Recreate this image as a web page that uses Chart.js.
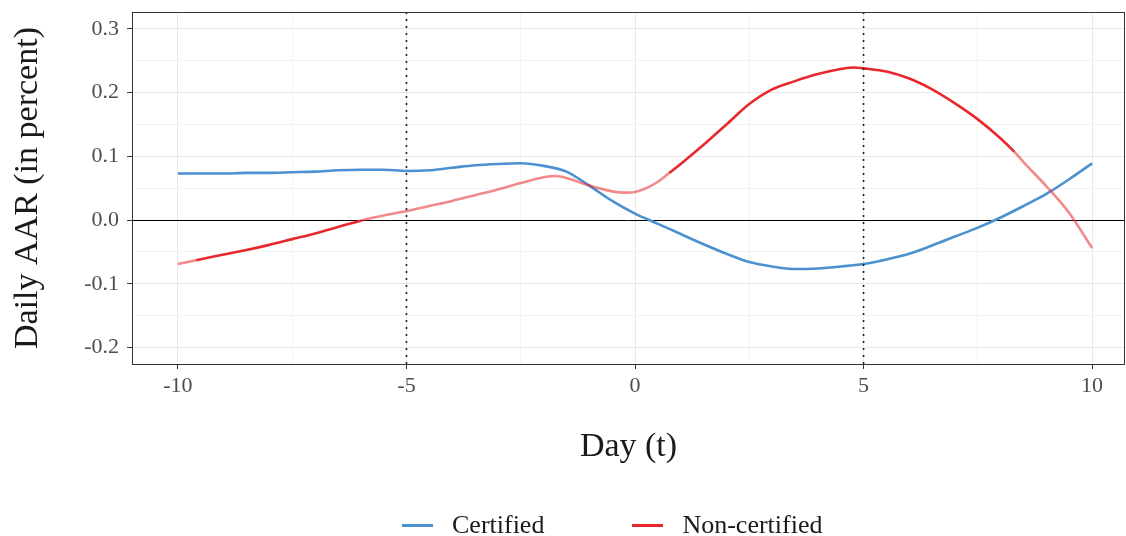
<!DOCTYPE html>
<html>
<head>
<meta charset="utf-8">
<script src="https://cdn.jsdelivr.net/npm/chart.js@4.4.1/dist/chart.umd.min.js"></script>
<style>
  body { margin: 0; background: #fff; overflow: hidden; }
  #wrap { position: relative; width: 1126px; height: 536px; }
  #legend { position: absolute; left: 402px; top: 510px; height: 30px; display: flex; align-items: center;
            font-family: "Liberation Serif", serif; font-size: 26px; color: #1a1a1a; }
  #legend .item { display: flex; align-items: center; margin-right: 88px; }
  #legend .swatch { width: 31px; height: 3px; margin-right: 19px; }
</style>
</head>
<body>
<div id="wrap">
  <canvas id="aar"></canvas>
  <div id="legend"></div>
</div>
<script>
// event window, days relative to the announcement
var certDays = [-10, -9.5, -9, -8.5, -8, -7.5, -7, -6.5, -6, -5.5, -5, -4.5, -4, -3.5, -3, -2.5, -2, -1.5, -1, -0.5,
                0, 0.5, 1, 1.5, 2, 2.5, 3, 3.5, 4, 4.5, 5, 5.5, 6, 6.5, 7, 7.5, 8, 8.5, 9, 9.5, 10];
var certAAR = [0.073, 0.073, 0.073, 0.074, 0.074, 0.075, 0.076, 0.078, 0.079, 0.079, 0.077, 0.078, 0.082, 0.086, 0.088, 0.089, 0.085, 0.076, 0.054, 0.030,
               0.010, -0.006, -0.022, -0.038, -0.053, -0.066, -0.073, -0.077, -0.076, -0.073, -0.069, -0.062, -0.053, -0.040, -0.026, -0.012, 0.004, 0.022, 0.041, 0.064, 0.089];

var nonCertDays = [-10, -9.6, -9, -8.5, -8, -7.5, -7, -6.5, -6, -5.5, -5, -4.5, -4, -3.5, -3, -2.5, -2, -1.75, -1.5, -1, -0.5, -0.2,
                   0, 0.25, 0.5, 0.75, 1, 1.5, 2, 2.5, 3, 3.5, 4, 4.5, 4.8, 5, 5.5, 6, 6.5, 7, 7.5, 8, 8.3, 8.5, 9, 9.5, 10];
var nonCertAAR = [-0.069, -0.063, -0.054, -0.047, -0.039, -0.030, -0.021, -0.011, -0.001, 0.007, 0.014, 0.022, 0.030, 0.039, 0.048, 0.058, 0.067, 0.069, 0.066, 0.054, 0.045, 0.043,
                  0.044, 0.050, 0.060, 0.074, 0.088, 0.118, 0.150, 0.182, 0.205, 0.218, 0.229, 0.237, 0.2395, 0.238, 0.233, 0.222, 0.205, 0.183, 0.158, 0.128, 0.107, 0.091, 0.053, 0.011, -0.044];

// stretches where the non-certified AAR is drawn in full colour
var nonCertSignif = [[-9.6, -6], [0.75, 8.3]];

var xTicks = [-10, -7.5, -5, -2.5, 0, 2.5, 5, 7.5, 10];
var yTicks = [-0.2, -0.15, -0.1, -0.05, 0, 0.05, 0.1, 0.15, 0.2, 0.25, 0.3];
var windowLines = [-5, 5];

var xMin = -11.005, xMax = 10.72;
var yMin = -0.226, yMax = 0.3265;

var BLUE = '#4b91cf';
var RED = '#e8282b';
var RED_LIGHT = 'rgba(232, 40, 43, 0.55)';
var SERIF = "'Liberation Serif', serif";

function pts(xs, ys) {
    return xs.map(function(x, i) { return {x: x, y: ys[i]}; });
}

function inSignif(x) {
    for (var i = 0; i < nonCertSignif.length; i++) {
        if (x >= nonCertSignif[i][0] && x <= nonCertSignif[i][1]) return true;
    }
    return false;
}

var datasets = [{
    label: 'Certified',
    data: pts(certDays, certAAR),
    borderColor: BLUE,
    backgroundColor: BLUE,
    borderWidth: 2.6,
    pointRadius: 0,
    cubicInterpolationMode: 'monotone',
    order: 2
}, {
    label: 'Non-certified',
    data: pts(nonCertDays, nonCertAAR),
    borderColor: RED,
    backgroundColor: RED,
    borderWidth: 2.6,
    pointRadius: 0,
    cubicInterpolationMode: 'monotone',
    segment: {
        borderColor: function(ctx) {
            var mid = (ctx.p0.parsed.x + ctx.p1.parsed.x) / 2;
            return inSignif(mid) ? RED : RED_LIGHT;
        }
    },
    order: 1
}];

// dotted markers for the event window
windowLines.forEach(function(d) {
    datasets.push({
        label: 'window',
        data: [{x: d, y: yMin}, {x: d, y: yMax}],
        borderColor: '#1c1c3c',
        borderWidth: 1.6,
        borderDash: [2, 5],
        pointRadius: 0,
        order: 0
    });
});

// panel frame on all four sides
var frame = {
    id: 'frame',
    afterDatasetsDraw: function(chart) {
        var a = chart.chartArea, c = chart.ctx;
        c.save();
        c.strokeStyle = '#333333';
        c.lineWidth = 1;
        c.strokeRect(Math.round(a.left) + 0.5, Math.round(a.top) + 0.5,
                     Math.round(a.right - a.left) - 1, Math.round(a.bottom - a.top));
        c.restore();
    }
};

var ctx = document.getElementById('aar');
var chart = new Chart(ctx, {
    type: 'line',
    data: {datasets: datasets},
    plugins: [frame],
    options: {
        responsive: true,
        maintainAspectRatio: false,
        animation: false,
        layout: {padding: {top: 12, bottom: 69, left: 0, right: 1}},
        plugins: {
            legend: {display: false},
            tooltip: {enabled: false}
        },
        scales: {
            x: {
                type: 'linear',
                min: xMin,
                max: xMax,
                afterBuildTicks: function(scale) {
                    scale.ticks = xTicks.map(function(v) { return {value: v}; });
                },
                afterFit: function(scale) {
                    scale.height = 103;
                    scale.paddingLeft = 0;
                    scale.paddingRight = 0;
                },
                ticks: {
                    autoSkip: false,
                    maxRotation: 0,
                    padding: 4,
                    color: '#4d4d4d',
                    font: {family: SERIF, size: 22},
                    callback: function(v) { return v % 5 === 0 ? String(v) : ''; }
                },
                grid: {
                    color: function(c) { return c.tick && c.tick.value % 5 === 0 ? '#e8e8e8' : '#f3f3f3'; },
                    lineWidth: 1,
                    tickLength: 5,
                    tickColor: function(c) { return c.tick && c.tick.value % 5 === 0 ? '#333333' : 'rgba(0,0,0,0)'; }
                },
                border: {display: false},
                title: {
                    display: true,
                    text: 'Day (t)',
                    color: '#1a1a1a',
                    font: {family: SERIF, size: 34},
                    padding: {top: 0, bottom: 0}
                }
            },
            y: {
                type: 'linear',
                min: yMin,
                max: yMax,
                afterBuildTicks: function(scale) {
                    scale.ticks = yTicks.map(function(v) { return {value: v}; });
                },
                afterFit: function(scale) {
                    scale.width = 132;
                    scale.paddingTop = 0;
                    scale.paddingBottom = 0;
                },
                ticks: {
                    autoSkip: false,
                    padding: 8,
                    color: '#4d4d4d',
                    font: {family: SERIF, size: 22},
                    callback: function(v) {
                        var k = Math.round(v * 100);
                        return k % 10 === 0 ? (v).toFixed(1) : '';
                    }
                },
                grid: {
                    color: function(c) {
                        if (!c.tick) return '#e8e8e8';
                        var k = Math.round(c.tick.value * 100);
                        if (k === 0) return '#000000';
                        return k % 10 === 0 ? '#e8e8e8' : '#f3f3f3';
                    },
                    lineWidth: 1,
                    tickLength: 5,
                    tickColor: function(c) {
                        var k = c.tick ? Math.round(c.tick.value * 100) : 0;
                        return k % 10 === 0 ? '#333333' : 'rgba(0,0,0,0)';
                    }
                },
                border: {display: false},
                title: {
                    display: true,
                    text: 'Daily AAR (in percent)',
                    color: '#1a1a1a',
                    font: {family: SERIF, size: 34},
                    padding: {top: 8, bottom: 0}
                }
            }
        }
    }
});

// legend built from the chart's own label generator, in dataset order
var legendBox = document.getElementById('legend');
var items = chart.options.plugins.legend.labels.generateLabels(chart).filter(function(it) {
    return it.text !== 'window';
}).sort(function(a, b) { return a.datasetIndex - b.datasetIndex; });
items.forEach(function(it, i) {
    var item = document.createElement('div');
    item.className = 'item';
    if (i === items.length - 1) item.style.marginRight = '0';
    var sw = document.createElement('span');
    sw.className = 'swatch';
    sw.style.background = chart.data.datasets[it.datasetIndex].backgroundColor;
    var tx = document.createElement('span');
    tx.textContent = it.text;
    item.appendChild(sw);
    item.appendChild(tx);
    legendBox.appendChild(item);
});
</script>
</body>
</html>
